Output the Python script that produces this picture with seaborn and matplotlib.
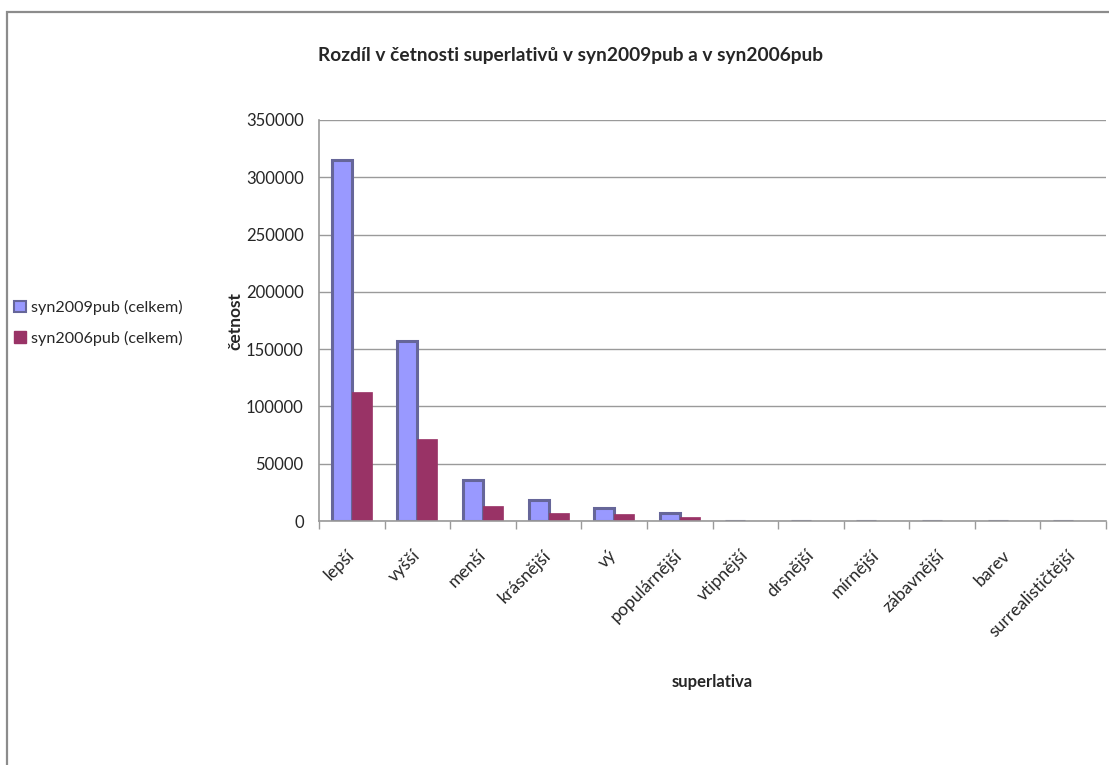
import matplotlib
matplotlib.use("Agg")
import matplotlib.pyplot as plt
from matplotlib.patches import Patch, Rectangle
from matplotlib.ticker import FixedLocator
import pandas as pd
import seaborn as sns

# Superlatives and their total frequencies in the two corpora
categories = ["lepší", "vyšší", "menší", "krásnější", "vý", "populárnější",
              "vtipnější", "drsnější", "mírnější", "zábavnější", "barev",
              "surrealističtější"]
syn2009pub = [315000, 157500, 36000, 18000, 11000, 6700, 60, 40, 40, 30, 20, 5]
syn2006pub = [113000, 72000, 12800, 7000, 5800, 3500, 30, 20, 20, 15, 10, 2]
series_names = ["syn2009pub (celkem)", "syn2006pub (celkem)"]
yticks = [0, 50000, 100000, 150000, 200000, 250000, 300000, 350000]

df = pd.DataFrame({
    "superlativa": categories * 2,
    "četnost": syn2009pub + syn2006pub,
    "korpus": [series_names[0]] * len(categories) + [series_names[1]] * len(categories),
})

sns.set_theme(style="white")
plt.rcParams["font.family"] = ["Lato", "DejaVu Sans"]

fill_colors = ["#9999FF", "#993366"]
edge_color = "#666699"
grid_gray = "#9a9a9a"

fig = plt.figure(figsize=(11.09, 7.65), dpi=100)
ax = fig.add_axes([319 / 1109, 1 - 521 / 765, (1106 - 319) / 1109, (521 - 120) / 765])

sns.barplot(data=df, x="superlativa", y="četnost", hue="korpus",
            hue_order=series_names, order=categories,
            palette=fill_colors, width=0.61, saturation=1, ax=ax,
            legend=False, errorbar=None)

# outline the first series, keep the second flat
for bar in ax.containers[0]:
    bar.set_edgecolor(edge_color)
    bar.set_linewidth(2.2)
for bar in ax.containers[1]:
    bar.set_edgecolor(fill_colors[1])
    bar.set_linewidth(0.5)

ax.set_xlim(-0.5, len(categories) - 0.5)
ax.set_ylim(0, 350000)
ax.set_yticks(yticks)
ax.set_yticklabels([str(v) for v in yticks], fontsize=12)
ax.yaxis.grid(True, color=grid_gray, linewidth=1)
ax.set_axisbelow(True)

# category labels at centres, tick marks at category boundaries
ax.set_xticks(range(len(categories)))
ax.set_xticklabels(categories, fontsize=12.6, rotation=45, ha="right",
                   va="center", rotation_mode="anchor")
ax.xaxis.set_minor_locator(FixedLocator([i - 0.5 for i in range(len(categories) + 1)]))
ax.tick_params(axis="x", which="major", length=0, pad=23)
ax.tick_params(axis="x", which="minor", length=6, color=grid_gray, width=1, direction="out")
ax.tick_params(axis="y", length=6, color=grid_gray, width=1, direction="out", pad=5)
ax.xaxis.set_tick_params(which="minor", bottom=True)

for side in ["top", "right"]:
    ax.spines[side].set_visible(False)
for side in ["left", "bottom"]:
    ax.spines[side].set_color(grid_gray)
    ax.spines[side].set_linewidth(1.2)
    ax.spines[side].set_zorder(5)

ax.set_xlabel("superlativa", fontsize=12, fontweight="bold", labelpad=25)
ax.set_ylabel("četnost", fontsize=12.5, fontweight="bold", labelpad=2)

fig.text(570 / 1109, 1 - 55 / 765,
         "Rozdíl v četnosti superlativů v syn2009pub a v syn2006pub",
         ha="center", va="center", fontsize=13.8, fontweight="bold")

handles = [Patch(facecolor=fill_colors[0], edgecolor=edge_color, linewidth=1.5),
           Patch(facecolor=fill_colors[1], edgecolor=fill_colors[1])]
fig.legend(handles, series_names, loc="center left",
           bbox_to_anchor=(8 / 1109, 1 - 323 / 765), frameon=False,
           fontsize=11.6, handlelength=0.7, handleheight=0.7,
           handletextpad=0.35, labelspacing=0.95, borderaxespad=0)

# chart area frame
fig.patches.append(Rectangle((7 / 1109, -0.05), 1.2, 1 - 12 / 765 + 0.05,
                             transform=fig.transFigure, fill=False,
                             edgecolor="#8c8c8c", linewidth=1.6))

fig.savefig("out.png", dpi=100, facecolor="white")
